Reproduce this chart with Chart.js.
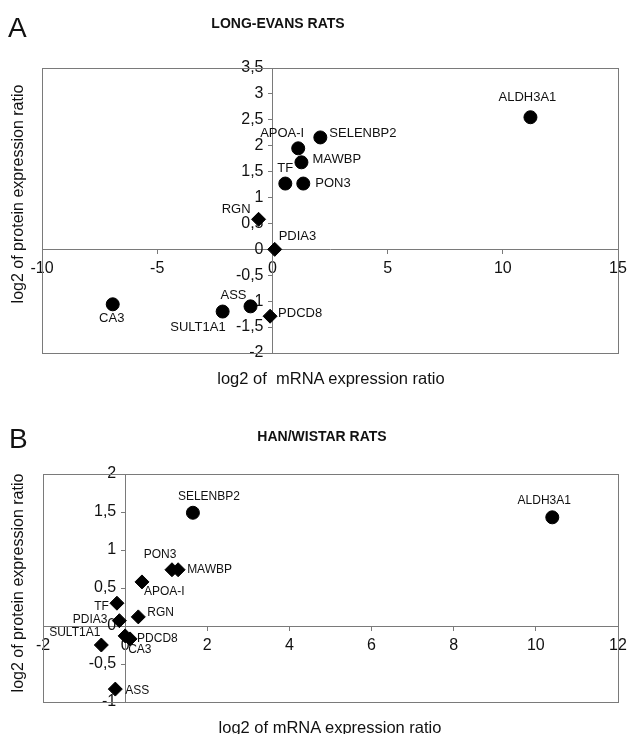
<!DOCTYPE html>
<html>
<head>
<meta charset="utf-8">
<script src="https://cdn.jsdelivr.net/npm/chart.js@4"></script>
<style>
  body { margin: 0; background: #fff; font-family: "Liberation Sans", Arial, sans-serif; }
  #wrap { position: relative; width: 627px; height: 734px; overflow: hidden; }
  canvas { position: absolute; left: 0; }
  .txt { position: absolute; color: #111; white-space: pre; }
  .panel { font-size: 28px; }
  .head { font-size: 14px; font-weight: bold; transform: translate(-50%, -50%); }
  .xt { font-size: 16.5px; transform: translate(-50%, -50%); }
  .yt { font-size: 16px; transform: translate(-50%, -50%) rotate(-90deg); }
</style>
</head>
<body>
<div id="wrap">
  <canvas id="chart-a" width="627" height="400" style="top:0"></canvas>
  <canvas id="chart-b" width="627" height="334" style="top:400px"></canvas>

  <div class="txt panel" style="left:8px; top:12px">A</div>
  <div class="txt head" style="left:278px; top:23px">LONG-EVANS RATS</div>
  <div class="txt yt" style="left:18px; top:194px">log2 of protein expression ratio</div>
  <div class="txt xt" style="left:331px; top:378px">log2 of  mRNA expression ratio</div>

  <div class="txt panel" style="left:9px; top:423px">B</div>
  <div class="txt head" style="left:322px; top:436px">HAN/WISTAR RATS</div>
  <div class="txt yt" style="left:18px; top:583px">log2 of protein expression ratio</div>
  <div class="txt xt" style="left:330px; top:727px">log2 of mRNA expression ratio</div>
</div>

<script>
// Panel A - Long-Evans rats
const genesA_circle = ["ALDH3A1", "SELENBP2", "APOA-I", "MAWBP", "PON3", "TF", "ASS", "SULT1A1", "CA3"];
const mrnaA_circle = [11.2, 2.08, 1.12, 1.26, 1.34, 0.56, -0.95, -2.16, -6.93];
const protA_circle = [2.55, 2.16, 1.95, 1.68, 1.27, 1.27, -1.1, -1.2, -1.06];

const genesA_diamond = ["RGN", "PDIA3", "PDCD8"];
const mrnaA_diamond = [-0.6, 0.1, -0.1];
const protA_diamond = [0.58, 0.0, -1.29];

// Panel B - Han/Wistar rats
const genesB_circle = ["ALDH3A1", "SELENBP2"];
const mrnaB_circle = [10.4, 1.65];
const protB_circle = [1.43, 1.49];

const genesB_diamond = ["PON3", "MAWBP", "APOA-I", "TF", "RGN", "PDIA3", "PDCD8", "CA3", "SULT1A1", "ASS"];
const mrnaB_diamond = [1.14, 1.29, 0.41, -0.2, 0.32, -0.14, 0.12, 0.0, -0.58, -0.24];
const protB_diamond = [0.74, 0.74, 0.58, 0.3, 0.12, 0.07, -0.17, -0.13, -0.25, -0.83];

// where each gene label sits next to its marker: [dx, dy, align]
const labelPosA = {
  "ALDH3A1": [-3, -20, "center"],
  "SELENBP2": [9, -4, "left"],
  "APOA-I": [6, -15, "right"],
  "MAWBP": [11, -3, "left"],
  "PON3": [12, 0, "left"],
  "TF": [0, -15, "center"],
  "RGN": [-8, -10, "right"],
  "PDIA3": [4, -13, "left"],
  "PDCD8": [8, -3, "left"],
  "ASS": [-4, -11, "right"],
  "SULT1A1": [3, 16, "right"],
  "CA3": [-1, 14, "center"],
};
const labelPosB = {
  "ALDH3A1": [-8, -17, "center"],
  "SELENBP2": [16, -16, "center"],
  "PON3": [-12, -15, "center"],
  "MAWBP": [9, 0, "left"],
  "APOA-I": [2, 10, "left"],
  "TF": [-8, 3, "right"],
  "RGN": [9, -4, "left"],
  "PDIA3": [-12, -1, "right"],
  "PDCD8": [7, 0, "left"],
  "CA3": [3, 14, "left"],
  "SULT1A1": [-1, -12, "right"],
  "ASS": [10, 2, "left"],
};

const toPoints = (xs, ys) => xs.map((x, i) => ({ x: x, y: ys[i] }));
const commaTick = (v) => String(v).replace(".", ",");
// y labels are right-aligned on the axis line itself, the spaces push them off it
const commaTickY = (v) => commaTick(v) + "  ";
const noPad = (scale) => {
  scale.paddingLeft = 0;
  scale.paddingRight = 0;
  scale.paddingTop = 0;
  scale.paddingBottom = 0;
};
const lineGrey = "#7a7a7a";
const tickFont = { size: 16, family: "'Liberation Sans', Arial" };

const boxPlugin = {
  id: "box",
  beforeDatasetsDraw(chart) {
    const a = chart.chartArea;
    const ctx = chart.ctx;
    ctx.save();
    ctx.strokeStyle = lineGrey;
    ctx.lineWidth = 1;
    ctx.strokeRect(a.left + 0.5, a.top + 0.5, a.right - a.left, a.bottom - a.top);
    ctx.restore();
  },
};

const geneLabelPlugin = {
  id: "geneLabels",
  afterDatasetsDraw(chart, args, opts) {
    const ctx = chart.ctx;
    ctx.save();
    ctx.fillStyle = "#111";
    ctx.font = opts.size + "px 'Liberation Sans', Arial, sans-serif";
    ctx.textBaseline = "middle";
    chart.data.datasets.forEach((ds, di) => {
      const meta = chart.getDatasetMeta(di);
      meta.data.forEach((pt, i) => {
        const name = ds.genes[i];
        const p = opts.pos[name] || [8, 0, "left"];
        ctx.textAlign = p[2];
        ctx.fillText(name, pt.x + p[0], pt.y + p[1]);
      });
    });
    ctx.restore();
  },
};

const buildPanel = (id, sets, xr, yr, pad, labelPos, labelSize) => {
  const ctx = document.getElementById(id);
  return new Chart(ctx, {
    type: "scatter",
    data: {
      datasets: [
        {
          genes: sets.circleGenes,
          data: toPoints(sets.circleX, sets.circleY),
          pointStyle: "circle",
          pointRadius: 6.5,
          backgroundColor: "#000",
          borderColor: "#000",
        },
        {
          genes: sets.diamondGenes,
          data: toPoints(sets.diamondX, sets.diamondY),
          pointStyle: "rectRot",
          pointRadius: 7,
          backgroundColor: "#000",
          borderColor: "#000",
        },
      ],
    },
    options: {
      responsive: false,
      animation: false,
      layout: { padding: pad },
      plugins: {
        legend: { display: false },
        tooltip: { enabled: false },
        geneLabels: { pos: labelPos, size: labelSize },
      },
      scales: {
        x: {
          type: "linear",
          position: { y: 0 },
          min: xr[0],
          max: xr[1],
          afterFit: noPad,
          ticks: { stepSize: xr[2], color: "#111", font: tickFont, padding: 6, callback: commaTick },
          grid: { drawOnChartArea: false, tickLength: 4, color: lineGrey },
          border: { color: lineGrey },
        },
        y: {
          type: "linear",
          position: { x: 0 },
          min: yr[0],
          max: yr[1],
          afterFit: noPad,
          ticks: { stepSize: yr[2], color: "#111", font: tickFont, callback: commaTickY },
          grid: { drawOnChartArea: false, tickLength: 4, color: lineGrey },
          border: { color: lineGrey },
        },
      },
    },
    plugins: [boxPlugin, geneLabelPlugin],
  });
};

buildPanel(
  "chart-a",
  {
    circleGenes: genesA_circle, circleX: mrnaA_circle, circleY: protA_circle,
    diamondGenes: genesA_diamond, diamondX: mrnaA_diamond, diamondY: protA_diamond,
  },
  [-10, 15, 5],
  [-2, 3.5, 0.5],
  { left: 42, top: 68, right: 9, bottom: 47 },
  labelPosA,
  13
);

buildPanel(
  "chart-b",
  {
    circleGenes: genesB_circle, circleX: mrnaB_circle, circleY: protB_circle,
    diamondGenes: genesB_diamond, diamondX: mrnaB_diamond, diamondY: protB_diamond,
  },
  [-2, 12, 2],
  [-1, 2, 0.5],
  { left: 43, top: 74, right: 9, bottom: 32 },
  labelPosB,
  12
);
</script>
</body>
</html>
